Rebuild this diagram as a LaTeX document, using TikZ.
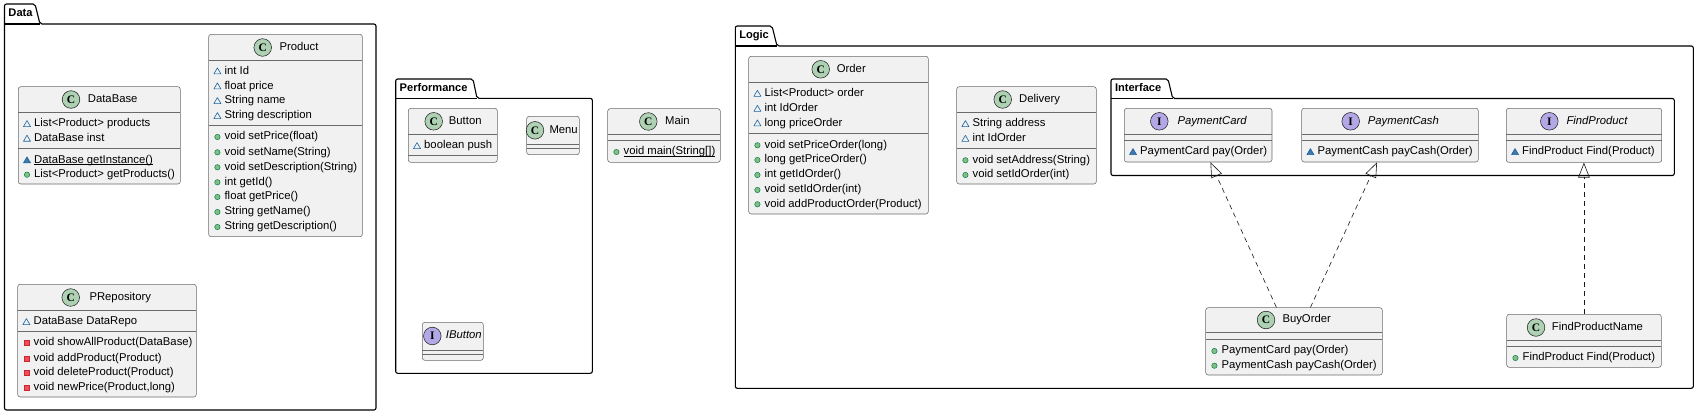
\documentclass[tikz,border=0pt]{standalone}
\usepackage{fontspec}
\setmainfont{Liberation Sans}
\newfontfamily\iconfont{Liberation Serif}
\usetikzlibrary{arrows.meta,fit}
\definecolor{clsfill}{HTML}{F1F1F1}
\definecolor{clsline}{HTML}{6A6A6A}
\definecolor{cgreen}{HTML}{ADD1B2}
\definecolor{ipurple}{HTML}{B4A7E5}
\definecolor{visblue}{HTML}{1963A0}
\definecolor{visbluef}{HTML}{4177AF}
\definecolor{pubfill}{HTML}{84BE84}
\definecolor{publine}{HTML}{038048}
\definecolor{privfill}{HTML}{F24D5C}
\definecolor{privline}{HTML}{C82930}
\definecolor{arrowc}{HTML}{181818}
\newcommand\myuline[1]{\setbox0\hbox{#1}\rlap{\vrule width\wd0 height -1.2pt depth 1.8pt}\box0}
\tikzset{
 cls/.style={draw=clsline, fill=clsfill, line width=0.55pt, rounded corners=2.5pt, inner sep=0pt},
 divl/.style={draw=clsline, line width=0.55pt},
 cicon/.style={circle, draw=arrowc, line width=0.5pt, minimum size=17.6pt, inner sep=0pt, font=\iconfont\bfseries\fontsize{11.5}{11.5}\selectfont},
 ctxt/.style={anchor=west, inner sep=0pt, text height=8.1pt, text depth=2.4pt, font=\fontsize{11.3}{13}\selectfont},
 pkg/.style={draw=black, line width=1.1pt, rounded corners=2pt},
 pkgtxt/.style={anchor=west, inner sep=0pt, text height=8.1pt, text depth=2.4pt, font=\bfseries\fontsize{11.1}{13}\selectfont},
 realize/.style={draw=arrowc, line width=0.6pt, dash pattern=on 5pt off 4pt, -{Triangle[open, length=15pt, width=11.5pt]}},
}
\newcount\rowidx
\newcommand\rowtext[3]{\global\advance\rowidx by 1 \node[ctxt] (row\the\rowidx) at ({#1+15.7},#2) {#3};}
\newcommand\fld[3]{\draw[visblue, line width=0.6pt, line join=round] ({#1+8.7},#2) ++(-3.5,2.6) -- ++(7,0) -- ++(-3.5,-6) -- cycle; \rowtext{#1}{#2}{#3}}
\newcommand\mtri[3]{\draw[visblue, fill=visbluef, line width=0.6pt, line join=round] ({#1+8.7},#2) ++(-3.5,2.6) -- ++(7,0) -- ++(-3.5,-6) -- cycle; \rowtext{#1}{#2}{#3}}
\newcommand\mpub[3]{\draw[publine, fill=pubfill, line width=0.5pt] ({#1+8.7},#2) circle[radius=2.7pt]; \rowtext{#1}{#2}{#3}}
\newcommand\mpriv[3]{\draw[privline, fill=privfill, line width=0.5pt] ({#1+8.7},#2) ++(-2.5,-2.5) rectangle ++(5,5); \rowtext{#1}{#2}{#3}}
\newcommand\umlbox[6]{\node[cls, fit={(#2,#3)(#4,#5)}] (#1) {};
 \foreach \d in {#6} {\draw[divl] (#2,\d) -- (#4,\d);}}
\newcommand\hdr[7]{\node[cicon, fill=#3] (#1-i) at (#4,#5) {#2};
 \node[ctxt] (#1-t) at (#6,#5) {#7};}
\newcommand\pkgshape[9]{\draw[pkg] (#2,#3) -- (#7,#3) -- (#8,#4) -- (#5,#4) -- (#5,#6) -- (#2,#6) -- cycle;
 \draw[pkg] (#2,#4) -- (#8,#4);
 \node[pkgtxt] (#1) at ({#2+3.8},{(#3+#4)/2}) {#9};}
\begin{document}
\begin{tikzpicture}[x=1pt,y=-1pt]
\path[use as bounding box, fill=white] (0,0) rectangle (1698,415);
% packages
\pkgshape{pkgdata}{4.5}{4}{24}{376}{410}{35}{40}{Data}
\pkgshape{pkgperf}{395.7}{79}{98.3}{592.3}{373.3}{473}{477}{Performance}
\pkgshape{pkglogic}{735.3}{26}{46}{1693.3}{388.3}{772}{777}{Logic}
\pkgshape{pkgiface}{1111}{79}{98.5}{1674.3}{175.5}{1168}{1172.7}{Interface}
% DataBase
\umlbox{database}{18.3}{86.7}{180.3}{184}{112.3,148.3}
\hdr{database}{C}{cgreen}{71}{99.5}{87.7}{DataBase}
\fld{18.3}{124}{List<Product> products}
\fld{18.3}{138.6}{DataBase inst}
\mtri{18.3}{160.3}{\myuline{DataBase getInstance()}}
\mpub{18.3}{174.7}{List<Product> getProducts()}
% Product
\umlbox{product}{208.7}{34.3}{362.3}{236.7}{60.7,125.7}
\hdr{product}{C}{cgreen}{262.7}{47.5}{279.3}{Product}
\fld{208.7}{71.3}{int Id}
\fld{208.7}{86.3}{float price}
\fld{208.7}{101}{String name}
\fld{208.7}{116}{String description}
\mpub{208.7}{137}{void setPrice(float)}
\mpub{208.7}{152.3}{void setName(String)}
\mpub{208.7}{167.3}{void setDescription(String)}
\mpub{208.7}{182.3}{int getId()}
\mpub{208.7}{197}{float getPrice()}
\mpub{208.7}{212}{String getName()}
\mpub{208.7}{227}{String getDescription()}
% PRepository
\umlbox{prepo}{17.7}{284.3}{196.3}{397}{310.7,331.3}
\hdr{prepo}{C}{cgreen}{70.7}{297.5}{89.3}{PRepository}
\fld{17.7}{322}{DataBase DataRepo}
\mpriv{17.7}{343}{void showAllProduct(DataBase)}
\mpriv{17.7}{358.3}{void addProduct(Product)}
\mpriv{17.7}{373}{void deleteProduct(Product)}
\mpriv{17.7}{387.7}{void newPrice(Product,long)}
% Button
\umlbox{button}{408.3}{108.3}{497.3}{162.3}{134.3,155.7}
\hdr{button}{C}{cgreen}{433.7}{121.3}{448.7}{Button}
\fld{408.3}{146}{boolean push}
% Menu
\umlbox{menu}{526.7}{116.3}{579.3}{154.7}{144.3,148.3}
\hdr{menu}{C}{cgreen}{535}{130.3}{549.3}{Menu}
% IButton
\umlbox{ibutton}{422.3}{322.3}{483.3}{360.3}{350,354}
\hdr{ibutton}{I}{ipurple}{432.3}{336}{445.7}{\itshape IButton}
% Main
\umlbox{main}{607.7}{108.7}{720.3}{162.3}{134.3,140}
\hdr{main}{C}{cgreen}{648.3}{121.5}{665}{Main}
\mpub{607.7}{152}{\myuline{void main(String[])}}
% Order
\umlbox{order}{748.7}{56.3}{928.3}{214}{82.3,133.7}
\hdr{order}{C}{cgreen}{820.7}{69.3}{836.7}{Order}
\fld{748.7}{93.7}{List<Product> order}
\fld{748.7}{108.7}{int IdOrder}
\fld{748.7}{123.3}{long priceOrder}
\mpub{748.7}{145.3}{void setPriceOrder(long)}
\mpub{748.7}{160}{long getPriceOrder()}
\mpub{748.7}{175}{int getIdOrder()}
\mpub{748.7}{190}{void setIdOrder(int)}
\mpub{748.7}{204.3}{void addProductOrder(Product)}
% Delivery
\umlbox{delivery}{956.7}{86.7}{1096.3}{184}{112.3,148.7}
\hdr{delivery}{C}{cgreen}{1002.7}{99.5}{1019}{Delivery}
\fld{956.7}{124}{String address}
\fld{956.7}{138.7}{int IdOrder}
\mpub{956.7}{160.3}{void setAddress(String)}
\mpub{956.7}{175}{void setIdOrder(int)}
% PaymentCard
\umlbox{paymentcard}{1124.3}{108.3}{1272}{162}{134.3,140.3}
\hdr{paymentcard}{I}{ipurple}{1159.3}{121.3}{1177.3}{\itshape PaymentCard}
\mtri{1124.3}{152}{PaymentCard pay(Order)}
% PaymentCash
\umlbox{paymentcash}{1301.7}{108.3}{1478.3}{162}{134.3,140.3}
\hdr{paymentcash}{I}{ipurple}{1350.7}{121.3}{1367.7}{\itshape PaymentCash}
\mtri{1301.7}{152}{PaymentCash payCash(Order)}
% FindProduct
\umlbox{findproduct}{1506.3}{108.3}{1661.7}{162.3}{134.3,140}
\hdr{findproduct}{I}{ipurple}{1549.3}{121.3}{1566.3}{\itshape FindProduct}
\mtri{1506.3}{152}{FindProduct Find(Product)}
% BuyOrder
\umlbox{buyorder}{1205.7}{307.7}{1382.3}{375}{332.3,339.3}
\hdr{buyorder}{C}{cgreen}{1266}{320}{1282.3}{BuyOrder}
\mpub{1205.7}{351}{PaymentCard pay(Order)}
\mpub{1205.7}{365.7}{PaymentCash payCash(Order)}
% FindProductName
\umlbox{findproductname}{1506.7}{314.3}{1661.3}{367.3}{340.7,346.3}
\hdr{findproductname}{C}{cgreen}{1536}{327.5}{1551.7}{FindProductName}
\mpub{1506.7}{358}{FindProduct Find(Product)}
% realizations
\draw[realize] ([xshift=71pt]buyorder.north west) -- ([xshift=86.4pt]paymentcard.south west);
\draw[realize] ([xshift=105pt]buyorder.north west) -- ([xshift=75.6pt]paymentcash.south west);
\draw[realize] ([xshift=77.5pt]findproductname.north west) coordinate (fpn) -- (fpn |- findproduct.south);
\end{tikzpicture}
\end{document}
